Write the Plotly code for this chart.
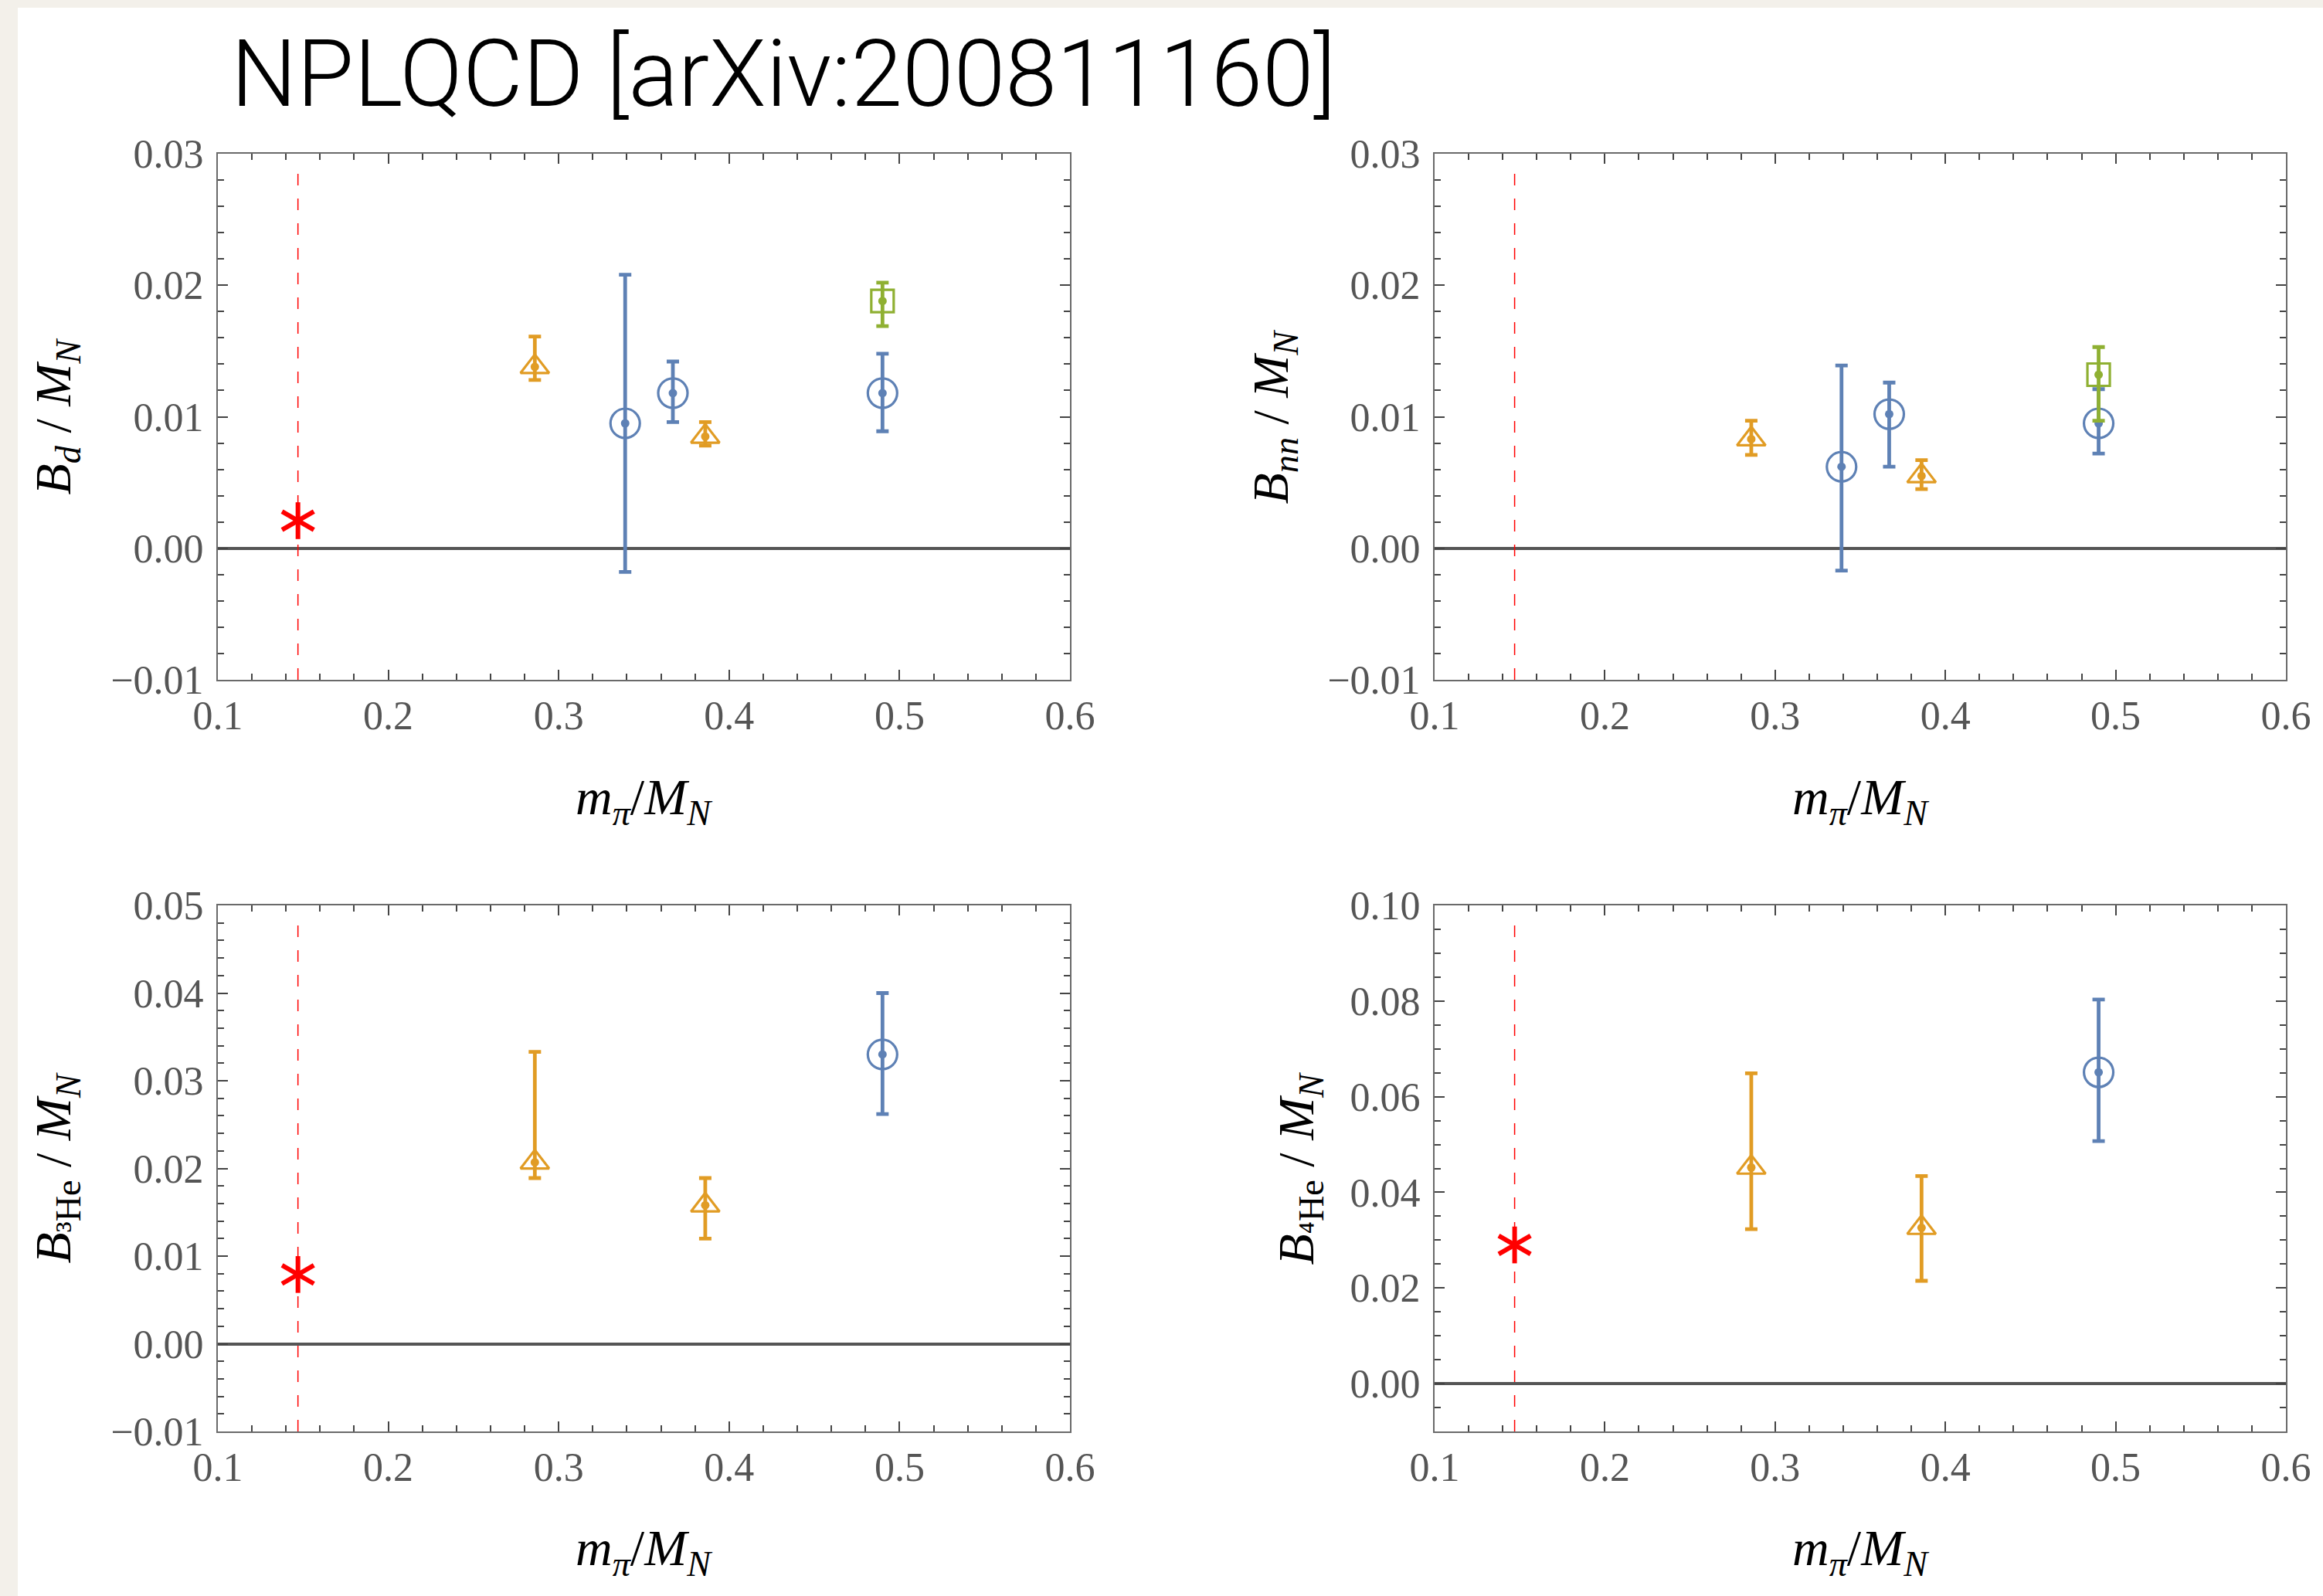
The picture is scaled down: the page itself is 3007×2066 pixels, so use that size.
import plotly.graph_objects as go

W, H = 3007, 2066

# ---------------- data ----------------
x_phys = 0.147                      # physical point m_pi/M_N
x_tri = [0.286, 0.386]              # orange triangles
x_circ = [0.339, 0.367, 0.490]      # blue circles (Bd, Bnn)
x_circ_he = [0.490]                 # blue circle (3He, 4He)
x_sq = [0.490]                      # green square (Bd, Bnn)

# B_d / M_N
bd_phys = 0.0021
bd_tri, bd_tri_hi, bd_tri_lo = [0.0138, 0.0085], [0.0161, 0.0096], [0.0128, 0.0078]
bd_circ, bd_circ_hi, bd_circ_lo = [0.0095, 0.0118, 0.0118], [0.0208, 0.0142, 0.0148], [-0.0018, 0.0096, 0.0089]
bd_sq, bd_sq_hi, bd_sq_lo = [0.0188], [0.0202], [0.0169]

# B_nn / M_N
bnn_tri, bnn_tri_hi, bnn_tri_lo = [0.0083, 0.0055], [0.0097, 0.0067], [0.0071, 0.0045]
bnn_circ, bnn_circ_hi, bnn_circ_lo = [0.0062, 0.0102, 0.0095], [0.0139, 0.0126, 0.0121], [-0.0017, 0.0062, 0.0072]
bnn_sq, bnn_sq_hi, bnn_sq_lo = [0.0132], [0.0153], [0.0097]

# B_3He / M_N
b3_phys = 0.0079
b3_tri, b3_tri_hi, b3_tri_lo = [0.0207, 0.0158], [0.0333, 0.0189], [0.0189, 0.0120]
b3_circ, b3_circ_hi, b3_circ_lo = [0.0330], [0.0400], [0.0262]

# B_4He / M_N
b4_phys = 0.0290
b4_tri, b4_tri_hi, b4_tri_lo = [0.0452, 0.0326], [0.0649, 0.0434], [0.0323, 0.0215]
b4_circ, b4_circ_hi, b4_circ_lo = [0.0651], [0.0803], [0.0507]

x_range = [0.1, 0.6]
y_ranges = [[-0.01, 0.03], [-0.01, 0.03], [-0.01, 0.05], [-0.01, 0.10]]
y_dticks = [0.01, 0.01, 0.01, 0.02]
y_minor = [0.002, 0.002, 0.002, 0.005]

y_titles = [
    "<i>B</i><sub><i>d</i></sub> / <i>M</i><sub><i>N</i></sub>",
    "<i>B</i><sub><i>nn</i></sub> / <i>M</i><sub><i>N</i></sub>",
    "<i>B</i><sub>³He</sub> / <i>M</i><sub><i>N</i></sub>",
    "<i>B</i><sub>⁴He</sub> / <i>M</i><sub><i>N</i></sub>",
]
x_title = "<i>m</i><sub><i>π</i></sub>/<i>M</i><sub><i>N</i></sub>"
main_title = "NPLQCD [arXiv:200811160]"

# ---------------- styling ----------------
BLUE, ORANGE, GREEN, RED = "#5e81b5", "#e19c24", "#8fb032", "#ff0000"
SERIF = "Liberation Serif, DejaVu Serif, serif"
PAGE_BG = "#f3f0ea"

# panel frames in pixels (left, right, top, bottom)
frames = [
    (282, 1385, 199, 880),
    (1857, 2959, 199, 880),
    (282, 1385, 1172, 1853),
    (1857, 2959, 1172, 1853),
]
ylabel_x = [73, 1649, 73, 1682]
xlabel_y = [1036, 1036, 2008, 2008]

fig = go.Figure()


def axname(i, kind):
    return kind if i == 0 else f"{kind}{i + 1}"


def add_err(i, x, y, hi, lo, symbol, size, color):
    fig.add_trace(go.Scatter(
        x=x, y=y, mode="markers",
        xaxis=axname(i, "x"), yaxis=axname(i, "y"),
        marker=dict(symbol=symbol, size=size, color=color,
                    line=dict(color=color, width=3.2)),
        error_y=dict(type="data", symmetric=False,
                     array=[h - v for h, v in zip(hi, y)],
                     arrayminus=[v - l for v, l in zip(y, lo)],
                     color=color, thickness=4.8, width=8),
        showlegend=False, cliponaxis=False,
    ))
    # filled centre dot of each data point
    fig.add_trace(go.Scatter(
        x=x, y=y, mode="markers",
        xaxis=axname(i, "x"), yaxis=axname(i, "y"),
        marker=dict(symbol="circle", size=11, color=color, line=dict(width=0)),
        showlegend=False, cliponaxis=False,
    ))


def add_star(i, y):
    fig.add_trace(go.Scatter(
        x=[x_phys] * 3, y=[y] * 3, mode="markers",
        xaxis=axname(i, "x"), yaxis=axname(i, "y"),
        marker=dict(symbol="line-ns-open", size=34, angle=[0, 60, 120],
                    color=RED, line=dict(color=RED, width=6)),
        showlegend=False, cliponaxis=False,
    ))


CIRC, TRI, SQ = 38, 32, 29
# panel 0: B_d
add_err(0, x_circ, bd_circ, bd_circ_hi, bd_circ_lo, "circle-open", CIRC, BLUE)
add_err(0, x_tri, bd_tri, bd_tri_hi, bd_tri_lo, "triangle-up-open", TRI, ORANGE)
add_err(0, x_sq, bd_sq, bd_sq_hi, bd_sq_lo, "square-open", SQ, GREEN)
add_star(0, bd_phys)
# panel 1: B_nn
add_err(1, x_circ, bnn_circ, bnn_circ_hi, bnn_circ_lo, "circle-open", CIRC, BLUE)
add_err(1, x_tri, bnn_tri, bnn_tri_hi, bnn_tri_lo, "triangle-up-open", TRI, ORANGE)
add_err(1, x_sq, bnn_sq, bnn_sq_hi, bnn_sq_lo, "square-open", SQ, GREEN)
# panel 2: B_3He
add_err(2, x_circ_he, b3_circ, b3_circ_hi, b3_circ_lo, "circle-open", CIRC, BLUE)
add_err(2, x_tri, b3_tri, b3_tri_hi, b3_tri_lo, "triangle-up-open", TRI, ORANGE)
add_star(2, b3_phys)
# panel 3: B_4He
add_err(3, x_circ_he, b4_circ, b4_circ_hi, b4_circ_lo, "circle-open", CIRC, BLUE)
add_err(3, x_tri, b4_tri, b4_tri_hi, b4_tri_lo, "triangle-up-open", TRI, ORANGE)
add_star(3, b4_phys)

tickfont = dict(family=SERIF, size=52, color="#555555")
layout = dict(
    template="none",
    width=W, height=H, autosize=False,
    margin=dict(l=0, r=0, t=0, b=0, pad=0),
    paper_bgcolor=PAGE_BG, plot_bgcolor="white",
    showlegend=False,
)
annotations = []
shapes = [dict(type="rect", xref="paper", yref="paper", x0=23 / W, x1=1.0, y0=0, y1=1 - 10 / H,
               fillcolor="white", line=dict(width=0), layer="below")]

for i, (l, r, t, b) in enumerate(frames):
    xa = "xaxis" if i == 0 else f"xaxis{i + 1}"
    ya = "yaxis" if i == 0 else f"yaxis{i + 1}"
    layout[xa] = dict(
        domain=[l / W, r / W], anchor=axname(i, "y"), range=x_range, automargin=False,
        tick0=0.1, dtick=0.1, tickformat=".1f",
        showgrid=False, zeroline=False,
        showline=True, linecolor="#6a6a6a", linewidth=2, mirror="allticks",
        ticks="inside", ticklen=13, tickwidth=1.5, tickcolor="#444444",
        minor=dict(ticks="inside", ticklen=8, tickwidth=1.5, tickcolor="#444444", dtick=0.02, tick0=0.1),
        tickfont=tickfont, ticklabelstandoff=0,
    )
    layout[ya] = dict(
        domain=[1 - b / H, 1 - t / H], anchor=axname(i, "x"), range=y_ranges[i], automargin=False,
        tick0=0, dtick=y_dticks[i], tickformat=".2f",
        showgrid=False, zeroline=True, zerolinecolor="#555555", zerolinewidth=3.8,
        showline=True, linecolor="#6a6a6a", linewidth=2, mirror="allticks",
        ticks="inside", ticklen=13, tickwidth=1.5, tickcolor="#444444",
        minor=dict(ticks="inside", ticklen=8, tickwidth=1.5, tickcolor="#444444", dtick=y_minor[i], tick0=0),
        tickfont=tickfont, ticklabelstandoff=6,
    )
    shapes.append(dict(type="line", xref=axname(i, "x"), yref=f"{axname(i, 'y')} domain",
                       x0=x_phys, x1=x_phys, y0=0, y1=0.985,
                       line=dict(color=RED, width=1.5, dash="15px,17px")))
    annotations.append(dict(text=y_titles[i], xref="paper", yref="paper",
                            x=ylabel_x[i] / W, y=1 - (t + b) / 2 / H, textangle=-90,
                            xanchor="center", yanchor="middle", showarrow=False,
                            font=dict(family=SERIF, size=66, color="black")))
    annotations.append(dict(text=x_title, xref="paper", yref="paper",
                            x=(l + r) / 2 / W, y=1 - xlabel_y[i] / H,
                            xanchor="center", yanchor="middle", showarrow=False,
                            font=dict(family=SERIF, size=66, color="black")))

annotations.append(dict(text=main_title, xref="paper", yref="paper",
                        x=297 / W, y=1 - 96 / H, xanchor="left", yanchor="middle",
                        showarrow=False,
                        font=dict(family="Roboto, Liberation Sans, sans-serif", size=120,
                                  color="black", weight=300)))

layout["annotations"] = annotations
layout["shapes"] = shapes
fig.update_layout(**layout)
# remove the browser's default 8px page margin so the figure sits at the window origin
fig.write_html("out.html",
               config={"displayModeBar": False},
               post_script=f"document.body.style.margin='0';document.body.style.background='{PAGE_BG}';")
